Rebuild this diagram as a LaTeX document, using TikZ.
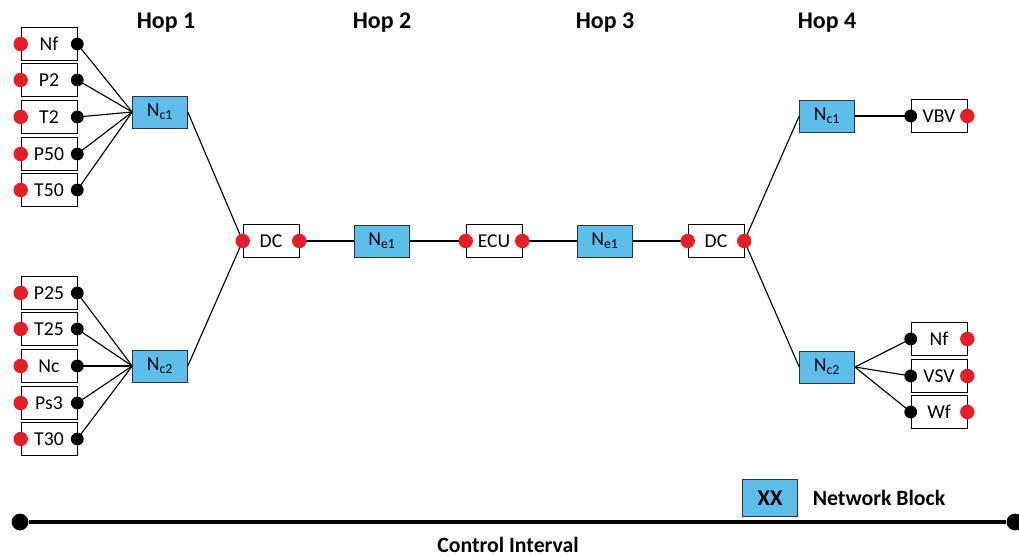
\documentclass[tikz,border=0pt]{standalone}
\usepackage{fontspec}
\setmainfont{Carlito}
\usetikzlibrary{positioning}

\definecolor{netblue}{RGB}{91,190,235}
\definecolor{dotred}{RGB}{232,30,38}

\tikzset{
	sensor/.style={draw, fill=white, minimum width=1.4cm, minimum height=0.83cm, inner sep=0pt, font=\fontsize{14}{16}\selectfont},
	netblock/.style={draw=black!80, fill=netblue, minimum width=1.375cm, minimum height=0.8cm, inner sep=0pt, font=\fontsize{14}{16}\selectfont},
	reddot/.style={circle, fill=dotred, inner sep=0pt, minimum size=0.36cm},
	blackdot/.style={circle, fill=black, inner sep=0pt, minimum size=0.32cm},
	hop/.style={font=\fontsize{17}{19}\selectfont\bfseries},
	link/.style={line width=0.8pt}
}

\begin{document}
\begin{tikzpicture}[x=0.025cm, y=-0.025cm]
	\useasboundingbox (0,0) rectangle (1019,556);

	% hop headings
	\node[hop] (hop1) at (166,23) {Hop 1};
	\node[hop] (hop2) at (382,23) {Hop 2};
	\node[hop] (hop3) at (605,23) {Hop 3};
	\node[hop] (hop4) at (827,23) {Hop 4};

	% network blocks
	\node[netblock] (nca) at (160,112) {N\textsubscript{c1}};
	\node[netblock] (ncb) at (160,366) {N\textsubscript{c2}};
	\node[netblock] (nea) at (382,241) {N\textsubscript{e1}};
	\node[netblock] (neb) at (605,241) {N\textsubscript{e1}};
	\node[netblock] (ncc) at (827,116) {N\textsubscript{c1}};
	\node[netblock] (ncd) at (827,367) {N\textsubscript{c2}};

	% chain in the middle
	\node[sensor] (dca) at (271,241) {DC};
	\node[sensor] (ecu) at (494,241) {ECU};
	\node[sensor] (dcb) at (716,241) {DC};

	\draw[link] (nca.east) -- (dca.west);
	\draw[link] (ncb.east) -- (dca.west);
	\draw[link] (dca.east) -- (nea.west);
	\draw[link] (nea.east) -- (ecu.west);
	\draw[link] (ecu.east) -- (neb.west);
	\draw[link] (neb.east) -- (dcb.west);
	\draw[link] (dcb.east) -- (ncc.west);
	\draw[link] (dcb.east) -- (ncd.west);

	\foreach \n in {dca,ecu,dcb} {
		\node[reddot] at (\n.west) {};
		\node[reddot] at (\n.east) {};
	}

	% sensors, first group
	\foreach \n/\y/\lab in {nf/44/Nf, pb/80/P2, tb/117/T2, pf/154/P50, tf/190/T50} {
		\node[sensor] (s-\n) at (49,\y) {\lab};
		\draw[link] (s-\n.east) -- (nca.west);
		\node[reddot] (r-\n) at (s-\n.west) {};
		\node[blackdot] (b-\n) at (s-\n.east) {};
	}

	% sensors, second group
	\foreach \n/\y/\lab in {pt/293/P25, tt/329/T25, nc/366/Nc, ps/403/Ps3, th/439/T30} {
		\node[sensor] (s-\n) at (49,\y) {\lab};
		\draw[link] (s-\n.east) -- (ncb.west);
		\node[reddot] (r-\n) at (s-\n.west) {};
		\node[blackdot] (b-\n) at (s-\n.east) {};
	}

	% actuators
	\node[sensor] (vbv) at (939,116) {VBV};
	\draw[line width=1.4pt] (ncc.east) -- (vbv.west);
	\node[blackdot] at (vbv.west) {};
	\node[reddot] at (vbv.east) {};

	\foreach \n/\y/\lab in {nfb/339/Nf, vsv/376/VSV, wf/412/Wf} {
		\node[sensor] (a-\n) at (939,\y) {\lab};
		\draw[link] (ncd.east) -- (a-\n.west);
		\node[blackdot] at (a-\n.west) {};
		\node[reddot] at (a-\n.east) {};
	}

	% legend
	\node[netblock, minimum height=0.93cm, font=\fontsize{16}{18}\selectfont\bfseries] (xx) at (770,498) {XX};
	\node[font=\fontsize{15.5}{17}\selectfont\bfseries, right=0.25cm of xx] (legend) {Network Block};

	% control interval
	\node[circle, fill, inner sep=0pt, minimum size=0.42cm] (ci-a) at (20,522) {};
	\node[circle, fill, inner sep=0pt, minimum size=0.42cm] (ci-b) at (1015,522) {};
	\draw[line width=2.5pt] (ci-a) -- (ci-b);
	\node[font=\fontsize{15.5}{17}\selectfont\bfseries] (ci-lab) at (508,545) {Control Interval};
\end{tikzpicture}
\end{document}
